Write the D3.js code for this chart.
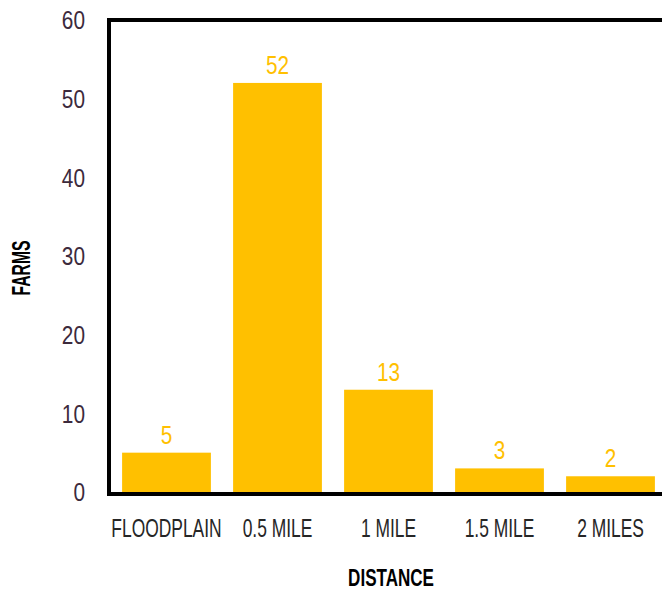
<!DOCTYPE html>
<html>
<head>
<meta charset="utf-8">
<script src="https://cdn.jsdelivr.net/npm/d3@7"></script>
<style>
  html, body { margin: 0; padding: 0; background: #ffffff; }
  svg { display: block; }
  text { font-family: "Liberation Sans", Arial, sans-serif; }
</style>
</head>
<body>
<svg id="chart" width="662" height="592"></svg>
<script>
// Farms by distance from the river
const categories = ["FLOODPLAIN", "0.5 MILE", "1 MILE", "1.5 MILE", "2 MILES"];
const farms = [5, 52, 13, 3, 2];
const yTicks = [0, 10, 20, 30, 40, 50, 60];
const xTitle = "DISTANCE";
const yTitle = "FARMS";

const gold = "#FFC000";
const svg = d3.select("#chart");

const plot = { left: 111, right: 666, top: 20, bottom: 492 };

const x = d3.scaleBand()
  .domain(categories)
  .range([plot.left, plot.right])
  .paddingInner(0.2)
  .paddingOuter(0.1);

const y = d3.scaleLinear()
  .domain([0, 60])
  .range([plot.bottom, plot.top]);

// Horizontally condensed text, placed at (px, py)
function condensed(sel, px, py, sx, rot) {
  return sel.attr("transform", `translate(${px},${py})` + (rot ? ` rotate(${rot})` : "") + ` scale(${sx},1)`);
}

// Bars
svg.append("g").selectAll("rect")
  .data(farms)
  .join("rect")
  .attr("x", (d, i) => x(categories[i]))
  .attr("y", d => y(d))
  .attr("width", x.bandwidth())
  .attr("height", d => y(0) - y(d))
  .attr("fill", gold);

// Value labels above bars
svg.append("g").selectAll("text")
  .data(farms)
  .join("text")
  .attr("text-anchor", "middle")
  .attr("font-size", 26)
  .attr("fill", gold)
  .text(d => d)
  .each(function(d, i) {
    condensed(d3.select(this), x(categories[i]) + x.bandwidth() / 2, y(d) - 9, 0.8);
  });

// Plot frame (left, top, bottom; right edge runs past the page)
svg.append("rect")
  .attr("x", plot.left - 2)
  .attr("y", plot.top)
  .attr("width", 560)
  .attr("height", y(0) - plot.top + 2)
  .attr("fill", "none")
  .attr("stroke", "#000")
  .attr("stroke-width", 4);

// Y axis tick labels
const yAxis = d3.axisLeft(y).tickValues(yTicks).tickSize(0).tickPadding(0);
const yg = svg.append("g").call(yAxis);
yg.select(".domain").remove();
yg.attr("font-family", null).attr("font-size", null);
yg.selectAll(".tick text")
  .attr("x", null).attr("dy", null)
  .attr("font-size", 26)
  .attr("fill", "#3c2a3c")
  .attr("text-anchor", "end")
  .attr("dominant-baseline", "central")
  .each(function() {
    condensed(d3.select(this), 85, 0, 0.8);
  });

// X axis category labels
const xAxis = d3.axisBottom(x).tickSize(0).tickPadding(0);
const xg = svg.append("g").call(xAxis);
xg.select(".domain").remove();
xg.attr("font-family", null).attr("font-size", null);
xg.selectAll(".tick text")
  .attr("y", null).attr("dy", null)
  .attr("font-size", 26)
  .attr("fill", "#262626")
  .attr("text-anchor", "middle")
  .each(function() {
    condensed(d3.select(this), 0, 537, 0.67);
  });

// Axis titles
svg.append("text")
  .attr("text-anchor", "middle")
  .attr("font-size", 24)
  .attr("font-weight", "bold")
  .attr("fill", "#000")
  .text(xTitle)
  .call(condensed, 391, 586, 0.71);

svg.append("text")
  .attr("text-anchor", "middle")
  .attr("font-size", 25)
  .attr("font-weight", "bold")
  .attr("fill", "#000")
  .text(yTitle)
  .call(condensed, 30, 268, 0.63, -90);
</script>
</body>
</html>
